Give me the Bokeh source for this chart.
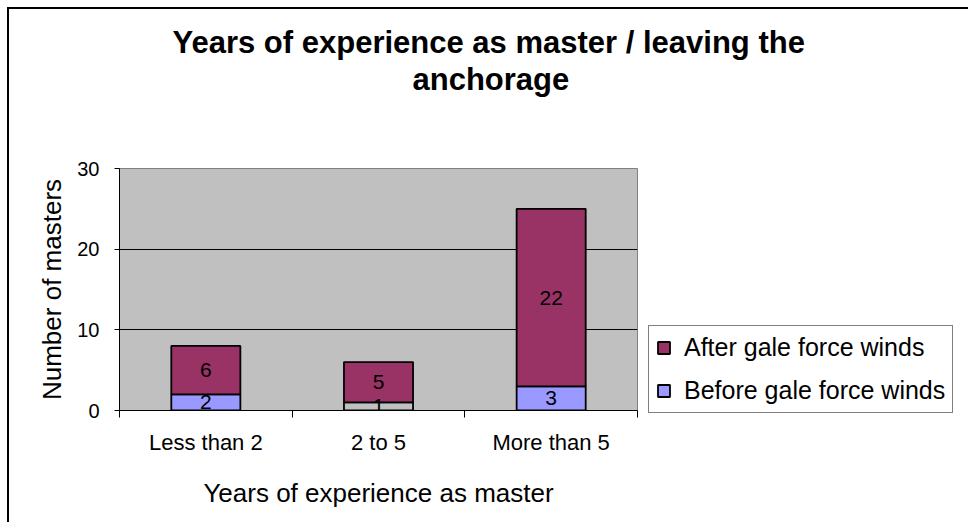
from bokeh.plotting import figure
from bokeh.models import FixedTicker, Legend, LegendItem, Title, ColumnDataSource
from bokeh.core.properties import value
from bokeh.embed import file_html
from bokeh.resources import INLINE

# ---- data ----
categories = ["Less than 2", "2 to 5", "More than 5"]
before = [2, 1, 3]
after = [6, 5, 22]
y_ticks = [0, 10, 20, 30]
grid_ticks = [10, 20]
series_names = ["After gale force winds", "Before gale force winds"]
title_line1 = "Years of experience as master / leaving the"
title_line2 = "anchorage"
x_title = "Years of experience as master"
y_title = "Number of masters"

# ---- styles ----
FONT = "Liberation Sans"
AFTER_COLOR = "#993366"
BEFORE_COLOR = "#9999FF"
BEFORE_COLORS = [BEFORE_COLOR, "#C0C0C0", BEFORE_COLOR]

n = len(categories)
x = [i + 0.5 for i in range(n)]
after_top = [b + a for b, a in zip(before, after)]

src = ColumnDataSource(dict(
    x=x,
    zero=[0] * n,
    before=before,
    after_top=after_top,
    before_color=BEFORE_COLORS,
    before_mid=[b / 2 for b in before],
    after_mid=[b + a / 2 for b, a in zip(before, after)],
    before_lbl=[str(v) for v in before],
    after_lbl=[str(v) for v in after],
))

p = figure(
    frame_width=518, frame_height=242,
    x_range=(0, n), y_range=(0, 30),
    output_backend="svg", toolbar_location=None,
    min_border_left=110, min_border_right=322,
    min_border_top=159, min_border_bottom=112,
    background_fill_color="#C0C0C0", border_fill_color="white",
    outline_line_color="#808080", outline_line_width=1,
    styles={"border-left": "2px solid black", "border-top": "2px solid black",
            "margin-left": "7px", "margin-top": "7px"},
)

# titles (p.title is the outermost line; panels added first sit nearest the frame)
p.title.text = title_line1
p.title.text_font = FONT
p.title.text_font_size = "31px"
p.title.text_font_style = "bold"
p.title.text_color = "black"
p.title.align = "left"
p.title.offset = 53
p.title.standoff = 0

spacer = Title(text=" ", text_font=FONT, text_font_size="10px", standoff=59)
p.add_layout(spacer, "above")
t2 = Title(text=title_line2, text_font=FONT, text_font_size="31px", text_color="black",
           text_font_style="bold", align="left", offset=293, standoff=0)
p.add_layout(t2, "above")

# axes
yax = p.yaxis[0]
yax.ticker = FixedTicker(ticks=y_ticks)
yax.major_tick_out = 5
yax.major_tick_in = 0
yax.minor_tick_out = 0
yax.minor_tick_in = 0
yax.axis_line_color = "black"
yax.major_tick_line_color = "black"
yax.major_label_text_font = FONT
yax.major_label_text_font_size = "20px"
yax.major_label_text_color = "black"
yax.major_label_standoff = 15
yax.axis_label = y_title
yax.axis_label_text_font = FONT
yax.axis_label_text_font_size = "26px"
yax.axis_label_text_font_style = "normal"
yax.axis_label_text_color = "black"
yax.axis_label_standoff = 7

xax = p.xaxis[0]
xax.ticker = FixedTicker(ticks=x, minor_ticks=list(range(n + 1)))
xax.major_label_overrides = {xi: c for xi, c in zip(x, categories)}
xax.major_tick_out = 0
xax.major_tick_in = 0
xax.major_tick_line_color = None
xax.minor_tick_out = 7
xax.minor_tick_in = 0
xax.minor_tick_line_color = "black"
xax.axis_line_color = "black"
xax.major_label_text_font = FONT
xax.major_label_text_font_size = "22px"
xax.major_label_text_color = "black"
xax.major_label_standoff = 12
xax.axis_label = x_title
xax.axis_label_text_font = FONT
xax.axis_label_text_font_size = "26px"
xax.axis_label_text_font_style = "normal"
xax.axis_label_text_color = "black"
xax.axis_label_standoff = 20

p.xgrid.visible = False
p.ygrid.ticker = FixedTicker(ticks=grid_ticks)
p.ygrid.grid_line_color = "black"
p.ygrid.grid_line_width = 1

# bars
r_before = p.vbar(x="x", bottom="zero", top="before", width=0.4,
                  fill_color="before_color", line_color="black", line_width=1.8, source=src)
r_after = p.vbar(x="x", bottom="before", top="after_top", width=0.4,
                 fill_color=AFTER_COLOR, line_color="black", line_width=1.8, source=src)

# data labels
for ycol, tcol in (("before_mid", "before_lbl"), ("after_mid", "after_lbl")):
    p.text(x="x", y=ycol, text=tcol, source=src, text_font=value(FONT),
           text_font_size="21px", text_align="center", text_baseline="middle",
           text_color="black")

legend = Legend(
    items=[LegendItem(label=series_names[0], renderers=[r_after]),
           LegendItem(label=series_names[1], renderers=[r_before], index=0)],
    location=(11, -3),
    border_line_color="black", border_line_width=1,
    background_fill_color="white", background_fill_alpha=1,
    label_text_font=FONT, label_text_font_size="25px", label_text_color="black",
    glyph_width=15, glyph_height=15, label_standoff=13,
    padding=7, spacing=14, label_height=28, margin=0,
)
p.add_layout(legend, "right")

open("out.html", "w").write(file_html(p, INLINE))
